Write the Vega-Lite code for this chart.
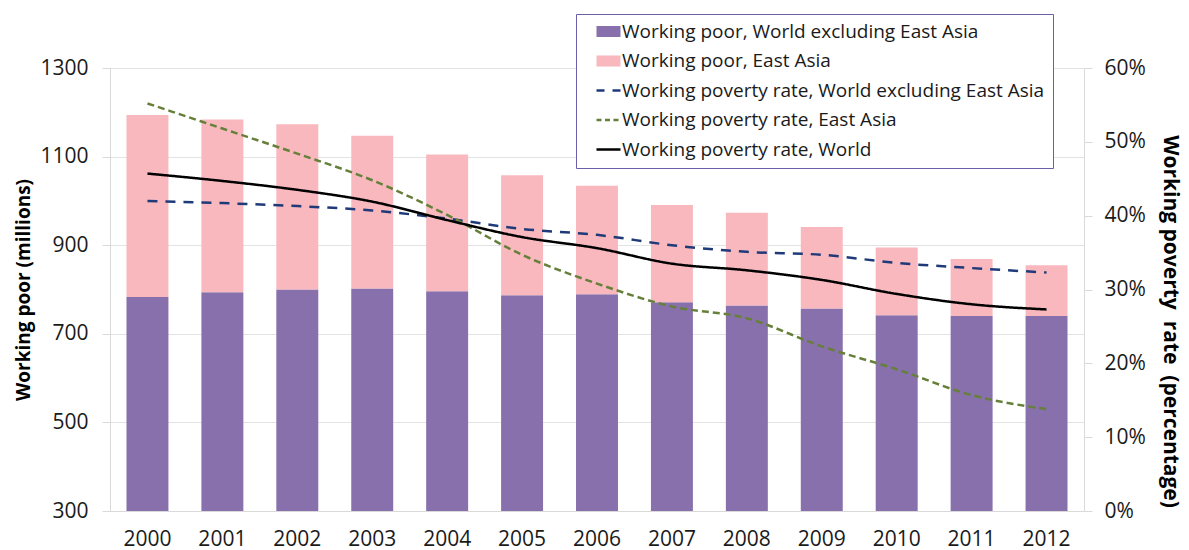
{
  "$schema": "https://vega.github.io/schema/vega-lite/v6.json",
  "width": 974,
  "height": 443,
  "autosize": {"type": "none"},
  "padding": {"left": 110, "top": 68, "right": 105, "bottom": 39},
  "background": "white",
  "datasets": {
    "poor": [
      {"year": "2000", "series": "Working poor, World excluding East Asia", "value": 783},
      {"year": "2001", "series": "Working poor, World excluding East Asia", "value": 794},
      {"year": "2002", "series": "Working poor, World excluding East Asia", "value": 800},
      {"year": "2003", "series": "Working poor, World excluding East Asia", "value": 802},
      {"year": "2004", "series": "Working poor, World excluding East Asia", "value": 796},
      {"year": "2005", "series": "Working poor, World excluding East Asia", "value": 787},
      {"year": "2006", "series": "Working poor, World excluding East Asia", "value": 789},
      {"year": "2007", "series": "Working poor, World excluding East Asia", "value": 771},
      {"year": "2008", "series": "Working poor, World excluding East Asia", "value": 764},
      {"year": "2009", "series": "Working poor, World excluding East Asia", "value": 757},
      {"year": "2010", "series": "Working poor, World excluding East Asia", "value": 742},
      {"year": "2011", "series": "Working poor, World excluding East Asia", "value": 740},
      {"year": "2012", "series": "Working poor, World excluding East Asia", "value": 740},
      {"year": "2000", "series": "Working poor, East Asia", "value": 411},
      {"year": "2001", "series": "Working poor, East Asia", "value": 390},
      {"year": "2002", "series": "Working poor, East Asia", "value": 373},
      {"year": "2003", "series": "Working poor, East Asia", "value": 345},
      {"year": "2004", "series": "Working poor, East Asia", "value": 309},
      {"year": "2005", "series": "Working poor, East Asia", "value": 271},
      {"year": "2006", "series": "Working poor, East Asia", "value": 245},
      {"year": "2007", "series": "Working poor, East Asia", "value": 220},
      {"year": "2008", "series": "Working poor, East Asia", "value": 209},
      {"year": "2009", "series": "Working poor, East Asia", "value": 184},
      {"year": "2010", "series": "Working poor, East Asia", "value": 153},
      {"year": "2011", "series": "Working poor, East Asia", "value": 129},
      {"year": "2012", "series": "Working poor, East Asia", "value": 115}
    ],
    "rate": [
      {"year": "2000", "series": "Working poverty rate, World excluding East Asia", "rate": 0.420},
      {"year": "2001", "series": "Working poverty rate, World excluding East Asia", "rate": 0.417},
      {"year": "2002", "series": "Working poverty rate, World excluding East Asia", "rate": 0.413},
      {"year": "2003", "series": "Working poverty rate, World excluding East Asia", "rate": 0.407},
      {"year": "2004", "series": "Working poverty rate, World excluding East Asia", "rate": 0.396},
      {"year": "2005", "series": "Working poverty rate, World excluding East Asia", "rate": 0.382},
      {"year": "2006", "series": "Working poverty rate, World excluding East Asia", "rate": 0.374},
      {"year": "2007", "series": "Working poverty rate, World excluding East Asia", "rate": 0.360},
      {"year": "2008", "series": "Working poverty rate, World excluding East Asia", "rate": 0.351},
      {"year": "2009", "series": "Working poverty rate, World excluding East Asia", "rate": 0.347},
      {"year": "2010", "series": "Working poverty rate, World excluding East Asia", "rate": 0.336},
      {"year": "2011", "series": "Working poverty rate, World excluding East Asia", "rate": 0.329},
      {"year": "2012", "series": "Working poverty rate, World excluding East Asia", "rate": 0.323},
      {"year": "2000", "series": "Working poverty rate, East Asia", "rate": 0.552},
      {"year": "2001", "series": "Working poverty rate, East Asia", "rate": 0.518},
      {"year": "2002", "series": "Working poverty rate, East Asia", "rate": 0.484},
      {"year": "2003", "series": "Working poverty rate, East Asia", "rate": 0.448},
      {"year": "2004", "series": "Working poverty rate, East Asia", "rate": 0.401},
      {"year": "2005", "series": "Working poverty rate, East Asia", "rate": 0.347},
      {"year": "2006", "series": "Working poverty rate, East Asia", "rate": 0.308},
      {"year": "2007", "series": "Working poverty rate, East Asia", "rate": 0.277},
      {"year": "2008", "series": "Working poverty rate, East Asia", "rate": 0.261},
      {"year": "2009", "series": "Working poverty rate, East Asia", "rate": 0.223},
      {"year": "2010", "series": "Working poverty rate, East Asia", "rate": 0.192},
      {"year": "2011", "series": "Working poverty rate, East Asia", "rate": 0.157},
      {"year": "2012", "series": "Working poverty rate, East Asia", "rate": 0.138},
      {"year": "2000", "series": "Working poverty rate, World", "rate": 0.457},
      {"year": "2001", "series": "Working poverty rate, World", "rate": 0.447},
      {"year": "2002", "series": "Working poverty rate, World", "rate": 0.435},
      {"year": "2003", "series": "Working poverty rate, World", "rate": 0.419},
      {"year": "2004", "series": "Working poverty rate, World", "rate": 0.394},
      {"year": "2005", "series": "Working poverty rate, World", "rate": 0.371},
      {"year": "2006", "series": "Working poverty rate, World", "rate": 0.356},
      {"year": "2007", "series": "Working poverty rate, World", "rate": 0.335},
      {"year": "2008", "series": "Working poverty rate, World", "rate": 0.326},
      {"year": "2009", "series": "Working poverty rate, World", "rate": 0.313},
      {"year": "2010", "series": "Working poverty rate, World", "rate": 0.294},
      {"year": "2011", "series": "Working poverty rate, World", "rate": 0.280},
      {"year": "2012", "series": "Working poverty rate, World", "rate": 0.273}
    ]
  },
  "config": {
    "view": {"stroke": null},
    "font": "Open Sans",
    "axis": {
      "labelFont": "Open Sans",
      "labelFontSize": 21,
      "labelColor": "#1a1a1a",
      "titleFont": "Open Sans",
      "titleFontSize": 19,
      "titleFontWeight": "bold",
      "titleColor": "#000000",
      "domainColor": "#d9d9d9",
      "tickColor": "#d9d9d9",
      "gridColor": "#e3e3e3"
    }
  },
  "layer": [
    {
      "data": {"name": "poor"},
      "mark": {"type": "bar", "clip": true},
      "encoding": {
        "x": {
          "field": "year",
          "type": "ordinal",
          "scale": {"paddingInner": 0.44, "paddingOuter": 0.22},
          "axis": {"title": null, "labelAngle": 0, "ticks": false, "labelPadding": 17, "grid": false}
        },
        "y": {
          "field": "value",
          "type": "quantitative",
          "stack": "zero",
          "scale": {"domain": [300, 1300]},
          "axis": {
            "title": "Working poor (millions)",
            "values": [300, 500, 700, 900, 1100, 1300],
            "format": "d",
            "grid": true,
            "tickSize": 8,
            "labelPadding": 14,
            "titlePadding": 6
          }
        },
        "color": {
          "field": "series",
          "type": "nominal",
          "scale": {
            "domain": [
              "Working poor, World excluding East Asia",
              "Working poor, East Asia",
              "Working poverty rate, World excluding East Asia",
              "Working poverty rate, East Asia",
              "Working poverty rate, World"
            ],
            "range": ["#8770AC", "#F8B8BE", "#1F3A78", "#66803A", "#000000"]
          },
          "legend": {
            "title": null,
            "orient": "none",
            "legendX": 466,
            "legendY": -54,
            "padding": 8,
            "fillColor": "white",
            "strokeColor": "#6E5EA8",
            "labelFont": "Open Sans",
            "labelFontSize": 19,
            "labelColor": "#1a1a1a",
            "labelLimit": 600,
            "labelOffset": 19,
            "symbolSize": 256,
            "rowPadding": 9.5,
            "encode": {
              "symbols": {
                "update": {
                  "shape": {"signal": "(datum.value == 'Working poor, World excluding East Asia' || datum.value == 'Working poor, East Asia') ? 'M0.375,-0.69H3.375V0.69H0.375Z' : 'M0.375,0H3.375'"},
                  "strokeWidth": {"signal": "(datum.value == 'Working poor, World excluding East Asia' || datum.value == 'Working poor, East Asia') ? 0 : 2.5"},
                  "strokeDash": {"signal": "datum.value == 'Working poverty rate, World excluding East Asia' ? [8, 8] : (datum.value == 'Working poverty rate, East Asia' ? [5, 3.5] : [1, 0])"}
                }
              }
            }
          }
        },
        "order": {"field": "series", "sort": "descending"}
      }
    },
    {
      "data": {"name": "rate"},
      "mark": {"type": "line", "interpolate": "monotone", "strokeWidth": 2.5},
      "encoding": {
        "x": {"field": "year", "type": "ordinal"},
        "y": {
          "field": "rate",
          "type": "quantitative",
          "scale": {"domain": [0, 0.6]},
          "axis": {
            "orient": "right",
            "title": "Working poverty\u00a0 rate\u00a0 (percentage)",
            "titleFontSize": 21,
            "titleY": 253,
            "format": ".0%",
            "values": [0, 0.1, 0.2, 0.3, 0.4, 0.5, 0.6],
            "grid": false,
            "tickSize": 8,
            "labelPadding": 12,
            "titlePadding": 14
          }
        },
        "color": {"field": "series", "type": "nominal"},
        "strokeDash": {
          "field": "series",
          "type": "nominal",
          "scale": {
            "domain": [
              "Working poverty rate, World excluding East Asia",
              "Working poverty rate, East Asia",
              "Working poverty rate, World"
            ],
            "range": [[10, 8], [7, 4], [1, 0]]
          },
          "legend": null
        }
      }
    }
  ],
  "resolve": {"scale": {"y": "independent"}}
}
